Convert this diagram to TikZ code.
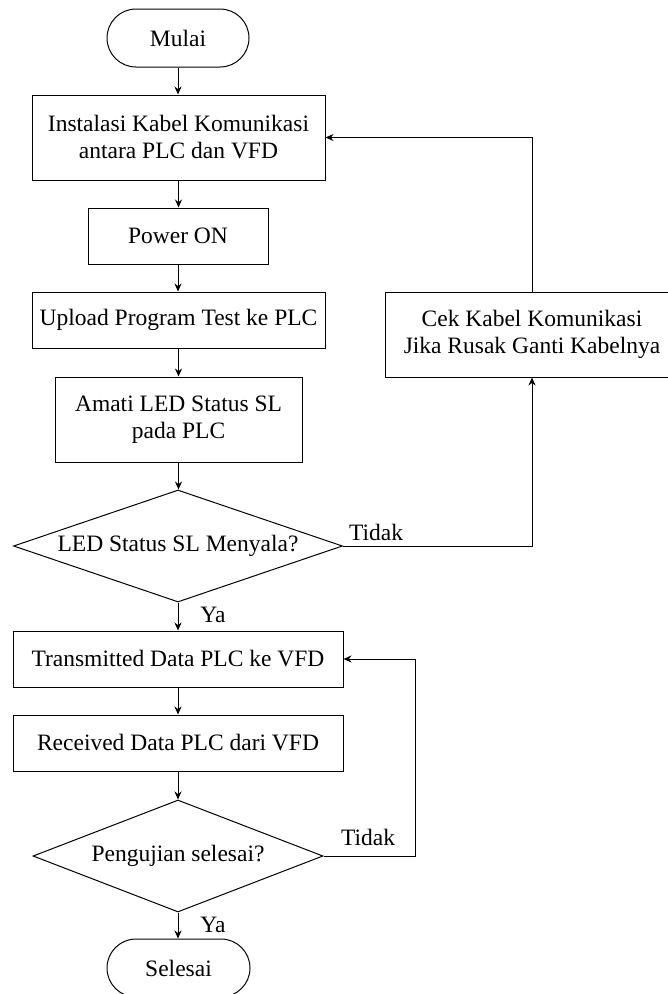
\documentclass[tikz,border=0pt]{standalone}
\usepackage{fontspec}
\setmainfont{Liberation Serif}
\usetikzlibrary{shapes.geometric,shapes.misc,arrows.meta}
\begin{document}
\begin{tikzpicture}[x=1pt,y=-1pt,
  every node/.style={font=\fontsize{23.5}{27}\selectfont, inner sep=0pt},
  procbox/.style={draw, line width=1pt, rectangle, align=center},
  termbox/.style={draw, line width=1pt, rounded rectangle, minimum width=142pt, minimum height=58pt},
  decbox/.style={draw, line width=1pt, diamond, aspect=2.9},
  conn/.style={line width=1pt, -{Stealth[length=8pt,width=7pt]}},
  plainconn/.style={line width=1pt}]
\useasboundingbox (0,0) rectangle (668,994);
\node[termbox] (mulai) at (178,38) {Mulai};
\node[procbox, minimum width=293pt, minimum height=85pt] (inst) at (178.5,137.5) {Instalasi Kabel Komunikasi\\antara PLC dan VFD};
\node[procbox, minimum width=180pt, minimum height=56pt] (power) at (178,236) {Power ON};
\node[procbox, minimum width=293pt, minimum height=56pt] (upload) at (178.5,320) {Upload Program Test ke PLC};
\node[procbox, minimum width=247pt, minimum height=85pt] (amati) at (178.5,419.5) {Amati LED Status SL\\pada PLC};
\node[decbox, minimum width=329pt, minimum height=112pt] (d1) at (178,546) {LED Status SL Menyala?};
\node[procbox, minimum width=294pt, minimum height=85pt] (cek) at (532,334.5) {Cek Kabel Komunikasi\\Jika Rusak Ganti Kabelnya};
\node[procbox, minimum width=330pt, minimum height=56pt] (trans) at (178,659) {Transmitted Data PLC ke VFD};
\node[procbox, minimum width=330pt, minimum height=56pt] (recv) at (178,743) {Received Data PLC dari VFD};
\node[decbox, minimum width=290pt, minimum height=112pt] (d2) at (178,856) {Pengujian selesai?};
\node[termbox, minimum width=143pt] (selesai) at (178.5,968) {Selesai};

\node (tidak1) at (376,532) {Tidak};
\node (ya1) at (213,615) {Ya};
\node (tidak2) at (368,837) {Tidak};
\node (ya2) at (213,925) {Ya};

\coordinate (c1) at (532,546);
\coordinate (c2) at (532,137.5);
\coordinate (c3) at (415,856);
\coordinate (c4) at (415,659);

\draw[conn] (mulai.south) -- (mulai.south |- inst.north);
\draw[conn] (inst.south) -- (inst.south |- power.north);
\draw[conn] (power.south) -- (power.south |- upload.north);
\draw[conn] (upload.south) -- (upload.south |- amati.north);
\draw[conn] (amati.south) -- (amati.south |- d1.north);
\draw[conn] (d1.south) -- (d1.south |- trans.north);
\draw[conn] (trans.south) -- (trans.south |- recv.north);
\draw[conn] (recv.south) -- (recv.south |- d2.north);
\draw[conn] (d2.south) -- (d2.south |- selesai.north);
\draw[conn] (d1.east) -- (c1) -- (cek.south);
\draw[conn] (cek.north) -- (c2) -- (inst.east);
\draw[conn] (d2.east) -- (c3) -- (c4) -- (trans.east);
\end{tikzpicture}
\end{document}
